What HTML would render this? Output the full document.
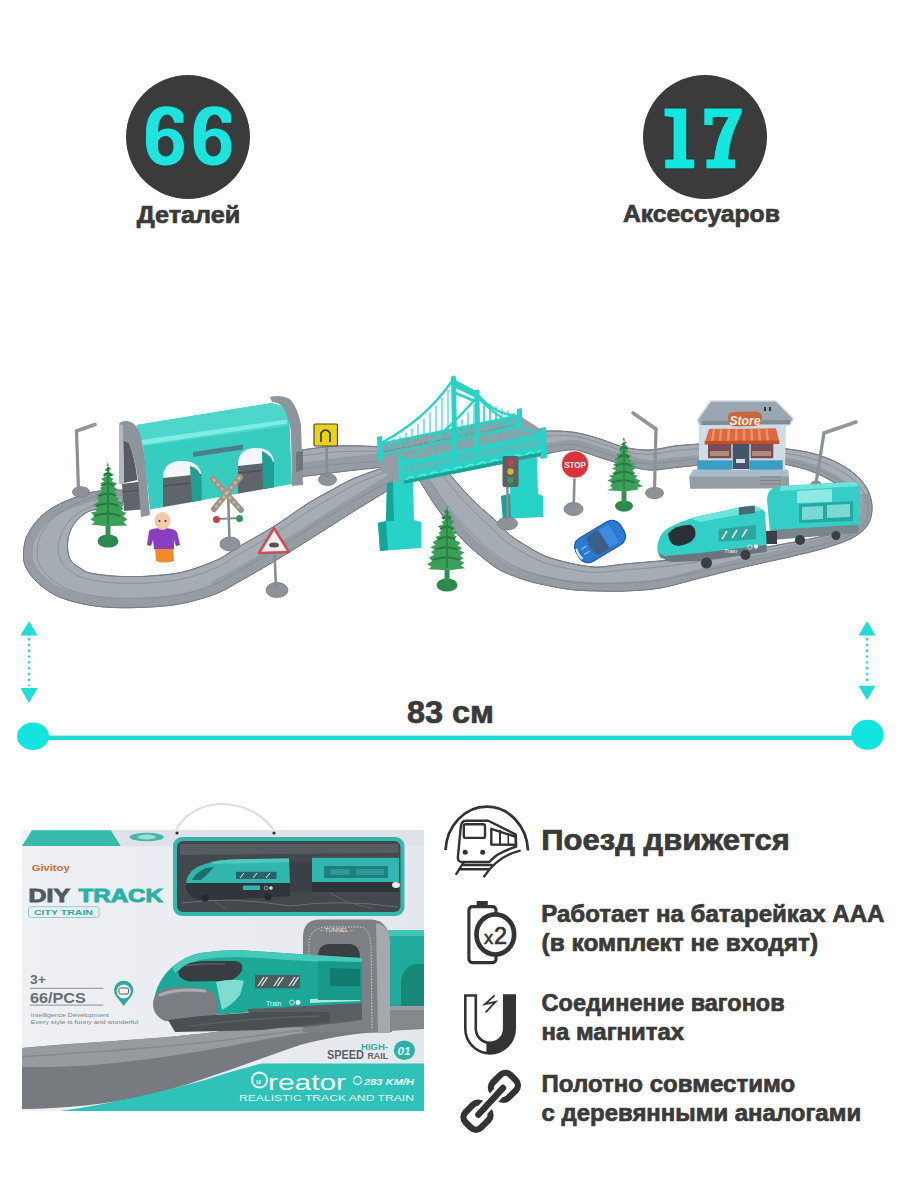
<!DOCTYPE html>
<html><head><meta charset="utf-8">
<style>
html,body{margin:0;padding:0;background:#fff;}
body{width:900px;height:1200px;overflow:hidden;position:relative;font-family:"Liberation Sans",sans-serif;}
svg{position:absolute;left:0;top:0;}
.t{font-family:"Liberation Sans",sans-serif;font-weight:bold;fill:#3a3a3a;stroke:#3a3a3a;stroke-width:0.7px;}
</style></head><body>
<svg width="900" height="1200" viewBox="0 0 900 1200">
<!-- top circles -->
<circle cx="188" cy="137" r="62" fill="#3c3b3b"/>
<circle cx="705" cy="137" r="62" fill="#3c3b3b"/>
<g fill="#1ee3de" fill-rule="evenodd" stroke="#0b3b3d" stroke-width="0.8">
<path d="M184,114.7 C181,108.5 175,105.8 166,105.8 C153,105.8 145.5,116 145.5,133 L145.5,141 C145.5,157 154,166 165.5,166 C177.5,166 184.5,158 184.5,147 C184.5,135 177,128 168,128 C163.5,128 160.5,129.5 158.6,131.5 C159,120 162,115 167,115 C171,115 173,118.5 174,123.3 L184,123.3 Z M165.8,136.5 C170.5,136.5 173,140.5 173,146.5 C173,152.5 170.5,156 165.8,156 C161,156 158.5,152.5 158.5,146.5 L158.5,141 C160,138 162.5,136.5 165.8,136.5 Z"/>
<path transform="translate(47.6,0)" d="M184,114.7 C181,108.5 175,105.8 166,105.8 C153,105.8 145.5,116 145.5,133 L145.5,141 C145.5,157 154,166 165.5,166 C177.5,166 184.5,158 184.5,147 C184.5,135 177,128 168,128 C163.5,128 160.5,129.5 158.6,131.5 C159,120 162,115 167,115 C171,115 173,118.5 174,123.3 L184,123.3 Z M165.8,136.5 C170.5,136.5 173,140.5 173,146.5 C173,152.5 170.5,156 165.8,156 C161,156 158.5,152.5 158.5,146.5 L158.5,141 C160,138 162.5,136.5 165.8,136.5 Z"/>
</g>
<g fill="#14e6e0" stroke="#0b3b3d" stroke-width="0.8">
<path d="M664.1,108.1 L686.6,108.1 L686.6,159.1 L694.7,159.1 L694.7,168.8 L664.7,168.8 L664.7,159.1 L673.1,159.1 L673.1,117.6 L664.1,116.6 Z"/>
<path d="M703.8,108.1 L742.2,108.1 L742.2,112.5 C740.5,117 736,126 733.8,132.5 C731.5,139 729.9,147 729.3,152 L728.6,159 L735.6,159 L735.6,168.8 L705.9,168.8 L705.9,159 L713.8,159 C714.5,150 717,140 720,133 C722.5,127 725.5,121.5 728.1,117.5 L713.1,117.5 L713.1,125.6 L703.8,125.6 Z"/>
</g>
<text class="t" x="136.7" y="223" font-size="23" textLength="103.5" lengthAdjust="spacingAndGlyphs">Деталей</text>
<text class="t" x="622.9" y="222.4" font-size="23" textLength="157" lengthAdjust="spacingAndGlyphs">Аксессуаров</text>

<!--PHOTO-->
<clipPath id="tc1"><path d="M125.0,490.0 C120.8,490.2 107.1,490.2 100.0,491.0 C92.9,491.8 89.6,492.7 82.5,495.0 C75.4,497.3 64.6,501.2 57.5,505.0 C50.4,508.8 45.0,512.5 40.0,517.5 C35.0,522.5 30.2,529.6 27.5,535.0 C24.8,540.4 24.2,545.0 23.8,550.0 C23.3,555.0 23.1,560.0 25.0,565.0 C26.9,570.0 30.0,575.0 35.0,580.0 C40.0,585.0 47.1,591.0 55.0,595.0 C62.9,599.0 72.9,601.7 82.5,603.8 C92.1,605.8 101.2,607.0 112.5,607.5 C123.8,608.0 138.2,607.7 150.0,607.0 C161.8,606.3 171.8,605.6 183.0,603.3 C194.2,601.0 207.5,597.0 217.0,593.3 C226.5,589.6 230.7,586.2 240.0,581.0 C249.3,575.8 261.8,568.7 273.0,562.0 C284.2,555.3 295.8,548.0 307.0,541.0 C318.2,534.0 329.2,526.8 340.0,520.0 C350.8,513.2 362.5,505.8 372.0,500.0 C381.5,494.2 392.8,487.5 397.0,485.0 L397.0,463.0 C390.0,465.5 366.2,473.3 355.0,478.0 C343.8,482.7 338.0,486.7 330.0,491.0 C322.0,495.3 316.5,498.0 307.0,504.0 C297.5,510.0 284.2,520.0 273.0,527.0 C261.8,534.0 249.3,540.5 240.0,546.0 C230.7,551.5 226.5,555.7 217.0,560.0 C207.5,564.3 194.2,569.3 183.0,572.0 C171.8,574.7 158.8,575.2 150.0,576.0 C141.2,576.8 136.2,576.5 130.0,576.5 C123.8,576.5 119.2,576.6 112.5,576.0 C105.8,575.4 95.4,574.3 90.0,573.0 C84.6,571.7 82.9,569.8 80.0,568.0 C77.1,566.2 74.4,564.7 72.5,562.5 C70.6,560.3 69.3,557.9 68.5,555.0 C67.7,552.1 67.4,548.3 67.5,545.0 C67.6,541.7 67.9,538.5 69.0,535.0 C70.1,531.5 71.5,527.5 74.0,524.0 C76.5,520.5 80.2,516.5 84.0,514.0 C87.8,511.5 90.7,510.3 97.0,509.0 C103.3,507.7 117.8,506.5 122.0,506.0 Z"/></clipPath>
<path d="M125.0,490.0 C120.8,490.2 107.1,490.2 100.0,491.0 C92.9,491.8 89.6,492.7 82.5,495.0 C75.4,497.3 64.6,501.2 57.5,505.0 C50.4,508.8 45.0,512.5 40.0,517.5 C35.0,522.5 30.2,529.6 27.5,535.0 C24.8,540.4 24.2,545.0 23.8,550.0 C23.3,555.0 23.1,560.0 25.0,565.0 C26.9,570.0 30.0,575.0 35.0,580.0 C40.0,585.0 47.1,591.0 55.0,595.0 C62.9,599.0 72.9,601.7 82.5,603.8 C92.1,605.8 101.2,607.0 112.5,607.5 C123.8,608.0 138.2,607.7 150.0,607.0 C161.8,606.3 171.8,605.6 183.0,603.3 C194.2,601.0 207.5,597.0 217.0,593.3 C226.5,589.6 230.7,586.2 240.0,581.0 C249.3,575.8 261.8,568.7 273.0,562.0 C284.2,555.3 295.8,548.0 307.0,541.0 C318.2,534.0 329.2,526.8 340.0,520.0 C350.8,513.2 362.5,505.8 372.0,500.0 C381.5,494.2 392.8,487.5 397.0,485.0 L397.0,463.0 C390.0,465.5 366.2,473.3 355.0,478.0 C343.8,482.7 338.0,486.7 330.0,491.0 C322.0,495.3 316.5,498.0 307.0,504.0 C297.5,510.0 284.2,520.0 273.0,527.0 C261.8,534.0 249.3,540.5 240.0,546.0 C230.7,551.5 226.5,555.7 217.0,560.0 C207.5,564.3 194.2,569.3 183.0,572.0 C171.8,574.7 158.8,575.2 150.0,576.0 C141.2,576.8 136.2,576.5 130.0,576.5 C123.8,576.5 119.2,576.6 112.5,576.0 C105.8,575.4 95.4,574.3 90.0,573.0 C84.6,571.7 82.9,569.8 80.0,568.0 C77.1,566.2 74.4,564.7 72.5,562.5 C70.6,560.3 69.3,557.9 68.5,555.0 C67.7,552.1 67.4,548.3 67.5,545.0 C67.6,541.7 67.9,538.5 69.0,535.0 C70.1,531.5 71.5,527.5 74.0,524.0 C76.5,520.5 80.2,516.5 84.0,514.0 C87.8,511.5 90.7,510.3 97.0,509.0 C103.3,507.7 117.8,506.5 122.0,506.0 Z" fill="#a5acb4" stroke="#767d86" stroke-width="1"/>
<path d="M125.0,490.0 C120.8,490.2 107.1,490.2 100.0,491.0 C92.9,491.8 89.6,492.7 82.5,495.0 C75.4,497.3 64.6,501.2 57.5,505.0 C50.4,508.8 45.0,512.5 40.0,517.5 C35.0,522.5 30.2,529.6 27.5,535.0 C24.8,540.4 24.2,545.0 23.8,550.0 C23.3,555.0 23.1,560.0 25.0,565.0 C26.9,570.0 30.0,575.0 35.0,580.0 C40.0,585.0 47.1,591.0 55.0,595.0 C62.9,599.0 72.9,601.7 82.5,603.8 C92.1,605.8 101.2,607.0 112.5,607.5 C123.8,608.0 138.2,607.7 150.0,607.0 C161.8,606.3 171.8,605.6 183.0,603.3 C194.2,601.0 207.5,597.0 217.0,593.3 C226.5,589.6 236.2,583.0 240.0,581.0" fill="none" stroke="#959ca4" stroke-width="18" clip-path="url(#tc1)" stroke-linejoin="round"/>
<path d="M217.0,593.3 C220.8,591.2 230.7,586.2 240.0,581.0 C249.3,575.8 261.8,568.7 273.0,562.0 C284.2,555.3 295.8,548.0 307.0,541.0 C318.2,534.0 329.2,526.8 340.0,520.0 C350.8,513.2 362.5,505.8 372.0,500.0 C381.5,494.2 392.8,487.5 397.0,485.0" fill="none" stroke="#959ca4" stroke-width="26" clip-path="url(#tc1)" stroke-linejoin="round"/>
<path d="M124.1,494.8 C119.9,495.1 106.0,495.4 99.1,496.4 C92.2,497.4 89.1,498.3 83.0,500.7 C76.8,503.1 68.2,507.0 62.5,510.7 C56.7,514.4 52.5,518.2 48.7,522.8 C44.9,527.3 41.4,533.2 39.5,538.0 C37.6,542.8 37.2,547.1 37.2,551.5 C37.1,555.9 37.4,560.1 39.2,564.2 C41.1,568.4 44.1,572.4 48.5,576.4 C52.9,580.4 58.3,585.2 65.5,588.4 C72.7,591.6 82.8,593.8 91.5,595.4 C100.2,597.1 108.0,597.8 117.8,598.2 C127.5,598.6 139.1,598.4 150.0,597.7 C160.9,597.0 171.8,596.3 183.0,593.9 C194.2,591.5 207.5,587.2 217.0,583.3 C226.5,579.4 230.7,575.8 240.0,570.5 C249.3,565.2 261.8,558.3 273.0,551.5 C284.2,544.7 296.3,536.6 307.0,529.9 C317.7,523.2 327.0,517.4 337.0,511.3 C347.0,505.2 356.9,498.9 366.9,493.4 C376.9,487.9 392.0,480.9 397.0,478.4" fill="none" stroke="#838a93" stroke-width="1" opacity="0.8"/>
<path d="M122.7,502.5 C118.5,502.9 104.2,503.8 97.7,505.0 C91.2,506.3 88.2,507.4 83.7,509.8 C79.1,512.3 73.9,516.3 70.4,519.8 C66.9,523.4 64.6,527.3 62.6,531.1 C60.7,535.0 59.4,539.0 58.7,542.8 C58.0,546.6 58.1,550.5 58.7,553.9 C59.2,557.3 60.1,560.3 62.1,563.0 C64.0,565.8 66.7,568.2 70.1,570.6 C73.5,573.1 76.3,575.9 82.3,577.8 C88.3,579.8 98.6,581.2 105.9,582.1 C113.2,583.0 118.8,583.2 126.2,583.3 C133.5,583.4 140.5,583.6 150.0,582.8 C159.5,582.1 171.8,581.5 183.0,578.9 C194.2,576.3 207.5,571.5 217.0,567.3 C226.5,563.1 230.7,559.1 240.0,553.7 C249.3,548.3 261.8,541.6 273.0,534.7 C284.2,527.8 297.1,518.4 307.0,512.1 C316.9,505.9 323.6,502.3 332.2,497.4 C340.8,492.5 347.9,487.8 358.7,482.8 C369.5,477.9 390.6,470.3 397.0,467.8" fill="none" stroke="#838a93" stroke-width="1" opacity="0.8"/>
<path d="M125.0,490.0 C120.8,490.2 107.1,490.2 100.0,491.0 C92.9,491.8 89.6,492.7 82.5,495.0 C75.4,497.3 64.6,501.2 57.5,505.0 C50.4,508.8 45.0,512.5 40.0,517.5 C35.0,522.5 30.2,529.6 27.5,535.0 C24.8,540.4 24.2,545.0 23.8,550.0 C23.3,555.0 23.1,560.0 25.0,565.0 C26.9,570.0 30.0,575.0 35.0,580.0 C40.0,585.0 47.1,591.0 55.0,595.0 C62.9,599.0 72.9,601.7 82.5,603.8 C92.1,605.8 101.2,607.0 112.5,607.5 C123.8,608.0 138.2,607.7 150.0,607.0 C161.8,606.3 171.8,605.6 183.0,603.3 C194.2,601.0 207.5,597.0 217.0,593.3 C226.5,589.6 230.7,586.2 240.0,581.0 C249.3,575.8 261.8,568.7 273.0,562.0 C284.2,555.3 295.8,548.0 307.0,541.0 C318.2,534.0 329.2,526.8 340.0,520.0 C350.8,513.2 362.5,505.8 372.0,500.0 C381.5,494.2 392.8,487.5 397.0,485.0 L397.0,463.0 C390.0,465.5 366.2,473.3 355.0,478.0 C343.8,482.7 338.0,486.7 330.0,491.0 C322.0,495.3 316.5,498.0 307.0,504.0 C297.5,510.0 284.2,520.0 273.0,527.0 C261.8,534.0 249.3,540.5 240.0,546.0 C230.7,551.5 226.5,555.7 217.0,560.0 C207.5,564.3 194.2,569.3 183.0,572.0 C171.8,574.7 158.8,575.2 150.0,576.0 C141.2,576.8 136.2,576.5 130.0,576.5 C123.8,576.5 119.2,576.6 112.5,576.0 C105.8,575.4 95.4,574.3 90.0,573.0 C84.6,571.7 82.9,569.8 80.0,568.0 C77.1,566.2 74.4,564.7 72.5,562.5 C70.6,560.3 69.3,557.9 68.5,555.0 C67.7,552.1 67.4,548.3 67.5,545.0 C67.6,541.7 67.9,538.5 69.0,535.0 C70.1,531.5 71.5,527.5 74.0,524.0 C76.5,520.5 80.2,516.5 84.0,514.0 C87.8,511.5 90.7,510.3 97.0,509.0 C103.3,507.7 117.8,506.5 122.0,506.0 Z" fill="none" stroke="#767d86" stroke-width="1"/>
<clipPath id="tc2"><path d="M296.0,477.0 C299.2,476.7 309.3,475.7 315.0,475.0 C320.7,474.3 323.3,473.8 330.0,473.0 C336.7,472.2 346.0,471.0 355.0,470.0 C364.0,469.0 379.2,467.5 384.0,467.0 L384.0,447.0 C380.0,446.8 367.7,446.2 360.0,446.0 C352.3,445.8 344.7,445.8 338.0,446.0 C331.3,446.2 327.0,446.7 320.0,447.5 C313.0,448.3 300.0,450.4 296.0,451.0 Z"/></clipPath>
<path d="M296.0,477.0 C299.2,476.7 309.3,475.7 315.0,475.0 C320.7,474.3 323.3,473.8 330.0,473.0 C336.7,472.2 346.0,471.0 355.0,470.0 C364.0,469.0 379.2,467.5 384.0,467.0 L384.0,447.0 C380.0,446.8 367.7,446.2 360.0,446.0 C352.3,445.8 344.7,445.8 338.0,446.0 C331.3,446.2 327.0,446.7 320.0,447.5 C313.0,448.3 300.0,450.4 296.0,451.0 Z" fill="#a5acb4" stroke="#767d86" stroke-width="1"/>
<path d="M296.0,477.0 C299.2,476.7 309.3,475.7 315.0,475.0 C320.7,474.3 323.3,473.8 330.0,473.0 C336.7,472.2 346.0,471.0 355.0,470.0 C364.0,469.0 379.2,467.5 384.0,467.0" fill="none" stroke="#959ca4" stroke-width="28" clip-path="url(#tc2)" stroke-linejoin="round"/>
<path d="M296.0,469.2 C299.4,468.8 310.4,467.5 316.5,466.8 C322.6,466.0 325.7,465.6 332.4,464.9 C339.1,464.2 347.9,463.4 356.5,462.8 C365.1,462.2 379.4,461.3 384.0,461.0" fill="none" stroke="#838a93" stroke-width="1" opacity="0.8"/>
<path d="M296.0,456.7 C299.8,456.2 312.2,454.3 318.9,453.6 C325.6,452.8 329.6,452.3 336.2,451.9 C342.9,451.6 350.9,451.4 358.9,451.3 C366.9,451.2 379.8,451.4 384.0,451.4" fill="none" stroke="#838a93" stroke-width="1" opacity="0.8"/>
<path d="M296.0,477.0 C299.2,476.7 309.3,475.7 315.0,475.0 C320.7,474.3 323.3,473.8 330.0,473.0 C336.7,472.2 346.0,471.0 355.0,470.0 C364.0,469.0 379.2,467.5 384.0,467.0 L384.0,447.0 C380.0,446.8 367.7,446.2 360.0,446.0 C352.3,445.8 344.7,445.8 338.0,446.0 C331.3,446.2 327.0,446.7 320.0,447.5 C313.0,448.3 300.0,450.4 296.0,451.0 Z" fill="none" stroke="#767d86" stroke-width="1"/>
<clipPath id="tc3"><path d="M540.0,457.0 C541.7,456.3 544.2,454.2 550.0,453.0 C555.8,451.8 566.7,449.2 575.0,450.0 C583.3,450.8 591.7,455.0 600.0,457.5 C608.3,460.0 616.7,462.9 625.0,465.0 C633.3,467.1 641.7,469.6 650.0,470.0 C658.3,470.4 666.7,468.3 675.0,467.5 C683.3,466.7 695.8,465.4 700.0,465.0 L700.0,444.0 C695.8,444.3 683.3,445.0 675.0,446.0 C666.7,447.0 658.3,449.8 650.0,450.0 C641.7,450.2 633.3,449.3 625.0,447.5 C616.7,445.7 608.3,441.5 600.0,439.0 C591.7,436.5 583.3,433.8 575.0,432.5 C566.7,431.2 555.8,430.9 550.0,431.0 C544.2,431.1 541.7,432.7 540.0,433.0 Z"/></clipPath>
<path d="M540.0,457.0 C541.7,456.3 544.2,454.2 550.0,453.0 C555.8,451.8 566.7,449.2 575.0,450.0 C583.3,450.8 591.7,455.0 600.0,457.5 C608.3,460.0 616.7,462.9 625.0,465.0 C633.3,467.1 641.7,469.6 650.0,470.0 C658.3,470.4 666.7,468.3 675.0,467.5 C683.3,466.7 695.8,465.4 700.0,465.0 L700.0,444.0 C695.8,444.3 683.3,445.0 675.0,446.0 C666.7,447.0 658.3,449.8 650.0,450.0 C641.7,450.2 633.3,449.3 625.0,447.5 C616.7,445.7 608.3,441.5 600.0,439.0 C591.7,436.5 583.3,433.8 575.0,432.5 C566.7,431.2 555.8,430.9 550.0,431.0 C544.2,431.1 541.7,432.7 540.0,433.0 Z" fill="#a5acb4" stroke="#767d86" stroke-width="1"/>
<path d="M540.0,457.0 C541.7,456.3 544.2,454.2 550.0,453.0 C555.8,451.8 566.7,449.2 575.0,450.0 C583.3,450.8 591.7,455.0 600.0,457.5 C608.3,460.0 616.7,462.9 625.0,465.0 C633.3,467.1 641.7,469.6 650.0,470.0 C658.3,470.4 666.7,468.3 675.0,467.5 C683.3,466.7 695.8,465.4 700.0,465.0" fill="none" stroke="#959ca4" stroke-width="20" clip-path="url(#tc3)" stroke-linejoin="round"/>
<path d="M540.0,449.8 C541.7,449.2 544.2,447.2 550.0,446.4 C555.8,445.6 566.7,443.8 575.0,444.8 C583.3,445.7 591.7,449.4 600.0,451.9 C608.3,454.4 616.7,457.7 625.0,459.8 C633.3,461.8 641.7,463.8 650.0,464.0 C658.3,464.2 666.7,461.9 675.0,461.1 C683.3,460.2 695.8,459.1 700.0,458.7" fill="none" stroke="#838a93" stroke-width="1" opacity="0.8"/>
<path d="M540.0,438.3 C541.7,437.9 544.2,436.2 550.0,435.8 C555.8,435.5 566.7,435.1 575.0,436.4 C583.3,437.6 591.7,440.6 600.0,443.1 C608.3,445.6 616.7,449.5 625.0,451.4 C633.3,453.2 641.7,454.5 650.0,454.4 C658.3,454.3 666.7,451.7 675.0,450.7 C683.3,449.8 695.8,449.0 700.0,448.6" fill="none" stroke="#838a93" stroke-width="1" opacity="0.8"/>
<path d="M540.0,457.0 C541.7,456.3 544.2,454.2 550.0,453.0 C555.8,451.8 566.7,449.2 575.0,450.0 C583.3,450.8 591.7,455.0 600.0,457.5 C608.3,460.0 616.7,462.9 625.0,465.0 C633.3,467.1 641.7,469.6 650.0,470.0 C658.3,470.4 666.7,468.3 675.0,467.5 C683.3,466.7 695.8,465.4 700.0,465.0 L700.0,444.0 C695.8,444.3 683.3,445.0 675.0,446.0 C666.7,447.0 658.3,449.8 650.0,450.0 C641.7,450.2 633.3,449.3 625.0,447.5 C616.7,445.7 608.3,441.5 600.0,439.0 C591.7,436.5 583.3,433.8 575.0,432.5 C566.7,431.2 555.8,430.9 550.0,431.0 C544.2,431.1 541.7,432.7 540.0,433.0 Z" fill="none" stroke="#767d86" stroke-width="1"/>
<clipPath id="tc4"><path d="M780.0,448.0 C785.2,448.8 801.3,450.5 811.0,453.0 C820.7,455.5 830.2,459.0 838.0,463.0 C845.8,467.0 852.8,472.0 858.0,477.0 C863.2,482.0 866.7,487.5 869.0,493.0 C871.3,498.5 872.3,504.5 872.0,510.0 C871.7,515.5 870.3,521.3 867.0,526.0 C863.7,530.7 859.0,534.3 852.0,538.0 C845.0,541.7 835.5,544.8 825.0,548.0 C814.5,551.2 802.5,553.8 789.0,557.0 C775.5,560.2 758.8,563.5 744.0,567.0 C729.2,570.5 714.0,574.5 700.0,578.0 C686.0,581.5 672.5,585.8 660.0,588.0 C647.5,590.2 635.0,590.5 625.0,591.0 C615.0,591.5 608.3,591.2 600.0,591.0 C591.7,590.8 583.3,590.8 575.0,590.0 C566.7,589.2 558.3,587.7 550.0,586.0 C541.7,584.3 533.3,582.7 525.0,580.0 C516.7,577.3 507.2,573.8 500.0,570.0 C492.8,566.2 487.8,561.7 482.0,557.0 C476.2,552.3 470.3,547.3 465.0,542.0 C459.7,536.7 455.0,531.2 450.0,525.0 C445.0,518.8 440.3,512.8 435.0,505.0 C429.7,497.2 420.8,482.5 418.0,478.0 L446.0,470.0 C449.2,473.7 459.3,485.8 465.0,492.0 C470.7,498.2 475.0,502.3 480.0,507.0 C485.0,511.7 490.0,515.3 495.0,520.0 C500.0,524.7 505.0,530.8 510.0,535.0 C515.0,539.2 519.2,541.5 525.0,545.0 C530.8,548.5 538.3,553.2 545.0,556.0 C551.7,558.8 558.3,560.3 565.0,562.0 C571.7,563.7 579.2,565.2 585.0,566.0 C590.8,566.8 593.3,567.3 600.0,567.0 C606.7,566.7 615.0,565.0 625.0,564.0 C635.0,563.0 647.5,562.2 660.0,561.0 C672.5,559.8 686.0,558.7 700.0,557.0 C714.0,555.3 729.2,553.3 744.0,551.0 C758.8,548.7 777.2,545.2 789.0,543.0 C800.8,540.8 806.8,539.8 815.0,538.0 C823.2,536.2 831.7,534.3 838.0,532.0 C844.3,529.7 849.5,527.0 853.0,524.0 C856.5,521.0 858.3,517.3 859.0,514.0 C859.7,510.7 858.8,507.7 857.0,504.0 C855.2,500.3 852.5,496.0 848.0,492.0 C843.5,488.0 836.7,483.7 830.0,480.0 C823.3,476.3 816.3,472.8 808.0,470.0 C799.7,467.2 784.7,464.2 780.0,463.0 Z"/></clipPath>
<path d="M780.0,448.0 C785.2,448.8 801.3,450.5 811.0,453.0 C820.7,455.5 830.2,459.0 838.0,463.0 C845.8,467.0 852.8,472.0 858.0,477.0 C863.2,482.0 866.7,487.5 869.0,493.0 C871.3,498.5 872.3,504.5 872.0,510.0 C871.7,515.5 870.3,521.3 867.0,526.0 C863.7,530.7 859.0,534.3 852.0,538.0 C845.0,541.7 835.5,544.8 825.0,548.0 C814.5,551.2 802.5,553.8 789.0,557.0 C775.5,560.2 758.8,563.5 744.0,567.0 C729.2,570.5 714.0,574.5 700.0,578.0 C686.0,581.5 672.5,585.8 660.0,588.0 C647.5,590.2 635.0,590.5 625.0,591.0 C615.0,591.5 608.3,591.2 600.0,591.0 C591.7,590.8 583.3,590.8 575.0,590.0 C566.7,589.2 558.3,587.7 550.0,586.0 C541.7,584.3 533.3,582.7 525.0,580.0 C516.7,577.3 507.2,573.8 500.0,570.0 C492.8,566.2 487.8,561.7 482.0,557.0 C476.2,552.3 470.3,547.3 465.0,542.0 C459.7,536.7 455.0,531.2 450.0,525.0 C445.0,518.8 440.3,512.8 435.0,505.0 C429.7,497.2 420.8,482.5 418.0,478.0 L446.0,470.0 C449.2,473.7 459.3,485.8 465.0,492.0 C470.7,498.2 475.0,502.3 480.0,507.0 C485.0,511.7 490.0,515.3 495.0,520.0 C500.0,524.7 505.0,530.8 510.0,535.0 C515.0,539.2 519.2,541.5 525.0,545.0 C530.8,548.5 538.3,553.2 545.0,556.0 C551.7,558.8 558.3,560.3 565.0,562.0 C571.7,563.7 579.2,565.2 585.0,566.0 C590.8,566.8 593.3,567.3 600.0,567.0 C606.7,566.7 615.0,565.0 625.0,564.0 C635.0,563.0 647.5,562.2 660.0,561.0 C672.5,559.8 686.0,558.7 700.0,557.0 C714.0,555.3 729.2,553.3 744.0,551.0 C758.8,548.7 777.2,545.2 789.0,543.0 C800.8,540.8 806.8,539.8 815.0,538.0 C823.2,536.2 831.7,534.3 838.0,532.0 C844.3,529.7 849.5,527.0 853.0,524.0 C856.5,521.0 858.3,517.3 859.0,514.0 C859.7,510.7 858.8,507.7 857.0,504.0 C855.2,500.3 852.5,496.0 848.0,492.0 C843.5,488.0 836.7,483.7 830.0,480.0 C823.3,476.3 816.3,472.8 808.0,470.0 C799.7,467.2 784.7,464.2 780.0,463.0 Z" fill="#a5acb4" stroke="#767d86" stroke-width="1"/>
<path d="M780.0,463.0 C784.7,464.2 799.7,467.2 808.0,470.0 C816.3,472.8 823.3,476.3 830.0,480.0 C836.7,483.7 845.0,490.0 848.0,492.0" fill="none" stroke="#959ca4" stroke-width="14" clip-path="url(#tc4)" stroke-linejoin="round"/>
<path d="M869.0,493.0 C869.5,495.8 872.3,504.5 872.0,510.0 C871.7,515.5 870.3,521.3 867.0,526.0 C863.7,530.7 859.0,534.3 852.0,538.0 C845.0,541.7 835.5,544.8 825.0,548.0 C814.5,551.2 802.5,553.8 789.0,557.0 C775.5,560.2 758.8,563.5 744.0,567.0 C729.2,570.5 714.0,574.5 700.0,578.0 C686.0,581.5 672.5,585.8 660.0,588.0 C647.5,590.2 635.0,590.5 625.0,591.0 C615.0,591.5 608.3,591.2 600.0,591.0 C591.7,590.8 583.3,590.8 575.0,590.0 C566.7,589.2 558.3,587.7 550.0,586.0 C541.7,584.3 533.3,582.7 525.0,580.0 C516.7,577.3 507.2,573.8 500.0,570.0 C492.8,566.2 487.8,561.7 482.0,557.0 C476.2,552.3 470.3,547.3 465.0,542.0 C459.7,536.7 455.0,531.2 450.0,525.0 C445.0,518.8 440.3,512.8 435.0,505.0 C429.7,497.2 420.8,482.5 418.0,478.0" fill="none" stroke="#959ca4" stroke-width="18" clip-path="url(#tc4)" stroke-linejoin="round"/>
<path d="M780.0,452.5 C785.0,453.4 800.8,455.5 810.1,458.1 C819.4,460.7 828.1,464.2 835.6,468.1 C843.1,472.0 850.0,476.8 855.0,481.5 C860.0,486.2 863.2,491.4 865.4,496.3 C867.6,501.2 868.5,506.4 868.1,511.2 C867.7,516.0 866.2,521.2 862.8,525.4 C859.4,529.6 854.6,532.9 847.8,536.2 C841.0,539.5 831.8,542.2 822.0,545.0 C812.2,547.8 802.0,549.9 789.0,552.8 C776.0,555.7 758.8,559.1 744.0,562.2 C729.2,565.4 714.0,568.8 700.0,571.7 C686.0,574.7 672.5,578.0 660.0,579.9 C647.5,581.8 635.0,582.2 625.0,582.9 C615.0,583.5 607.8,583.8 600.0,583.8 C592.2,583.8 585.6,583.6 578.0,582.8 C570.4,582.0 562.3,580.5 554.5,578.8 C546.7,577.1 538.8,575.5 531.0,572.8 C523.2,570.1 514.3,566.2 507.5,562.5 C500.7,558.8 496.0,554.9 490.4,550.4 C484.8,545.9 479.2,540.5 474.0,535.4 C468.8,530.3 464.0,525.3 459.0,519.6 C454.0,513.9 449.4,508.4 444.0,501.1 C438.6,493.8 429.3,479.9 426.4,475.6" fill="none" stroke="#838a93" stroke-width="1" opacity="0.8"/>
<path d="M780.0,459.7 C784.8,460.8 800.0,463.5 808.7,466.3 C817.3,469.0 824.8,472.5 831.8,476.3 C838.7,480.0 845.6,484.5 850.2,488.7 C854.8,492.9 857.7,497.5 859.6,501.6 C861.6,505.6 862.5,509.3 861.9,513.1 C861.3,516.9 859.5,521.1 856.1,524.4 C852.6,527.8 847.6,530.7 841.1,533.3 C834.6,535.9 825.9,538.1 817.2,540.2 C808.5,542.3 801.2,543.7 789.0,546.1 C776.8,548.5 758.8,551.9 744.0,554.5 C729.2,557.1 714.0,559.5 700.0,561.6 C686.0,563.7 672.5,565.6 660.0,566.9 C647.5,568.3 635.0,569.1 625.0,569.9 C615.0,570.8 607.0,572.1 600.0,572.3 C593.0,572.5 589.2,572.1 582.8,571.3 C576.4,570.4 568.7,568.9 561.7,567.3 C554.7,565.6 547.6,564.1 540.6,561.3 C533.6,558.5 525.6,554.1 519.5,550.5 C513.4,546.9 509.0,544.1 503.8,539.8 C498.7,535.6 493.5,529.7 488.4,524.8 C483.3,520.0 478.4,516.0 473.4,511.0 C468.4,506.0 464.0,501.4 458.4,494.9 C452.8,488.3 442.9,475.6 439.8,471.8" fill="none" stroke="#838a93" stroke-width="1" opacity="0.8"/>
<path d="M780.0,448.0 C785.2,448.8 801.3,450.5 811.0,453.0 C820.7,455.5 830.2,459.0 838.0,463.0 C845.8,467.0 852.8,472.0 858.0,477.0 C863.2,482.0 866.7,487.5 869.0,493.0 C871.3,498.5 872.3,504.5 872.0,510.0 C871.7,515.5 870.3,521.3 867.0,526.0 C863.7,530.7 859.0,534.3 852.0,538.0 C845.0,541.7 835.5,544.8 825.0,548.0 C814.5,551.2 802.5,553.8 789.0,557.0 C775.5,560.2 758.8,563.5 744.0,567.0 C729.2,570.5 714.0,574.5 700.0,578.0 C686.0,581.5 672.5,585.8 660.0,588.0 C647.5,590.2 635.0,590.5 625.0,591.0 C615.0,591.5 608.3,591.2 600.0,591.0 C591.7,590.8 583.3,590.8 575.0,590.0 C566.7,589.2 558.3,587.7 550.0,586.0 C541.7,584.3 533.3,582.7 525.0,580.0 C516.7,577.3 507.2,573.8 500.0,570.0 C492.8,566.2 487.8,561.7 482.0,557.0 C476.2,552.3 470.3,547.3 465.0,542.0 C459.7,536.7 455.0,531.2 450.0,525.0 C445.0,518.8 440.3,512.8 435.0,505.0 C429.7,497.2 420.8,482.5 418.0,478.0 L446.0,470.0 C449.2,473.7 459.3,485.8 465.0,492.0 C470.7,498.2 475.0,502.3 480.0,507.0 C485.0,511.7 490.0,515.3 495.0,520.0 C500.0,524.7 505.0,530.8 510.0,535.0 C515.0,539.2 519.2,541.5 525.0,545.0 C530.8,548.5 538.3,553.2 545.0,556.0 C551.7,558.8 558.3,560.3 565.0,562.0 C571.7,563.7 579.2,565.2 585.0,566.0 C590.8,566.8 593.3,567.3 600.0,567.0 C606.7,566.7 615.0,565.0 625.0,564.0 C635.0,563.0 647.5,562.2 660.0,561.0 C672.5,559.8 686.0,558.7 700.0,557.0 C714.0,555.3 729.2,553.3 744.0,551.0 C758.8,548.7 777.2,545.2 789.0,543.0 C800.8,540.8 806.8,539.8 815.0,538.0 C823.2,536.2 831.7,534.3 838.0,532.0 C844.3,529.7 849.5,527.0 853.0,524.0 C856.5,521.0 858.3,517.3 859.0,514.0 C859.7,510.7 858.8,507.7 857.0,504.0 C855.2,500.3 852.5,496.0 848.0,492.0 C843.5,488.0 836.7,483.7 830.0,480.0 C823.3,476.3 816.3,472.8 808.0,470.0 C799.7,467.2 784.7,464.2 780.0,463.0 Z" fill="none" stroke="#767d86" stroke-width="1"/>
<ellipse cx="81" cy="492" rx="8.5" ry="5.3125" fill="#8d9399" stroke="#747a80" stroke-width="0.8"/>
<path d="M76.5,431 L78.5,490" stroke="#8a9096" stroke-width="3.2" stroke-linecap="round"/>
<path d="M76.5,431 L95,424.5" stroke="#8f959b" stroke-width="3.6" stroke-linecap="round"/>
<ellipse cx="654.5" cy="493" rx="9" ry="5.625" fill="#8d9399" stroke="#747a80" stroke-width="0.8"/>
<path d="M656,429 L654.5,490" stroke="#8a9096" stroke-width="3.2" stroke-linecap="round"/>
<path d="M656,429 L633,413" stroke="#8f959b" stroke-width="3.6" stroke-linecap="round"/>
<ellipse cx="816" cy="484" rx="5" ry="3.125" fill="#8d9399" stroke="#747a80" stroke-width="0.8"/>
<path d="M824,433 L816,483" stroke="#8a9096" stroke-width="3.2" stroke-linecap="round"/>
<path d="M824,433 L856,422" stroke="#8f959b" stroke-width="3.6" stroke-linecap="round"/>
<g>
<path d="M122,484 L145,481 L147,509 L124,511 Z" fill="#5f656b"/>
<path d="M122,492 L146,489" stroke="#4a5056" stroke-width="1.2"/>
<path d="M136.5,425 L272,403 L289,409 L292,484 L150,509.4 L143,446 Z" fill="#36ccbf"/>
<path d="M136.5,425 L272,403 L286,407 L288,426 L145,446 Z" fill="#4dd6ca"/>
<path d="M141,440 L287,419.5 L287.5,423.5 L142,445 Z" fill="#7eeee5"/>
<path d="M163,507.1 L163,478 Q163,461 182,461 Q201.5,461 201.5,478 L201.5,500.2 Z" fill="#f4f7f7"/>
<path d="M163,507.1 L163,478 L201.5,474 L201.5,500.2 Z" fill="#5f656b"/>
<path d="M163,486 L201.5,482" stroke="#4a5056" stroke-width="1.5"/>
<path d="M190,466 Q199,468 201.5,478 L201.5,500.2 L192,502 Z" fill="#1f9e92"/>
<path d="M238,493.6 L238,465 Q238,448 256,448 Q274,448 274,465 L274,487.2 Z" fill="#f4f7f7"/>
<path d="M238,493.6 L238,466 L274,462 L274,487.2 Z" fill="#5f656b"/>
<path d="M238,473 L274,469" stroke="#4a5056" stroke-width="1.5"/>
<path d="M262,451 Q272,455 274,465 L274,487.2 L263,489 Z" fill="#1f9e92"/>
<path d="M193,452 L243,444.5 L243,449.5 L193,457 Z" fill="#4a7f8a"/>
<path d="M119,424 Q121,420.5 127,421 Q135,422 139,431 Q143,444 145,460 L150,515 L141,517 L138,480 Q135,458 129,443 L124,440 L123,484 L119,484 Z" fill="#8e949b"/>
<path d="M123.5,440 L129,443 Q135,458 137.5,480 L124,483 Z" fill="#565c62"/>
<path d="M119,424 L123,425 L124,484 L119,484 Z" fill="#b4b9bf"/>
<path d="M270,397 Q281,394 290,399 Q298,408 301,425 L303,485 L292,486 L291,432 Q289,415 282,406 Q277,402 272,402 Z" fill="#8e949b"/>
<path d="M296,452 L303,451 L303,470 L296,472 Z" fill="#6f757b"/>
</g>
<ellipse cx="327.5" cy="479.5" rx="9" ry="6" fill="#8d9399" stroke="#747a80" stroke-width="0.8"/>
<path d="M326.5,446 L327,478" stroke="#878d93" stroke-width="2.6"/>
<rect x="314" y="424" width="23.5" height="22" rx="1.5" fill="#e8d21a" stroke="#4d4a2a" stroke-width="1.2"/>
<path d="M321,442 L321,433 Q325.5,427 330,433 L330,442" fill="none" stroke="#333" stroke-width="1.6"/>
<g>
<!-- left pier -->
<path d="M387,483 L413,478 L414,520 L421,522 L421,548 L380,551 L378,523 L386,521 Z" fill="#27d3c7"/>
<path d="M387,483 L393,482 L394,521 L386,521 Z" fill="#16a497"/>
<path d="M378,523 L386,521 L388,550 L380,551 Z" fill="#16a497"/>
<!-- right pier -->
<path d="M511,458 L537,453 L538,494 L543,496 L543,517 L503,519 L501,496 L510,494 Z" fill="#27d3c7"/>
<path d="M501,496 L510,494 L511,518 L503,519 Z" fill="#16a497"/>
<!-- deck -->
<path d="M379,444 L520,416 L545,432 L545,456 L400,484 L380,470 Z" fill="#959ca4"/>
<path d="M382,452 L520,424" stroke="#7d848c" stroke-width="1"/>
</g>
<g fill="none" stroke="#27d3c7" stroke-linecap="round">
<path d="M380,444 L520,415.5" stroke-width="2.6"/>
<path d="M380,455 L520,427" stroke-width="1.8"/>
<path d="M383.0,443.4 L383.0,454.4" stroke-width="1.1"/>
<path d="M388.8,442.2 L388.8,453.2" stroke-width="1.1"/>
<path d="M394.6,441.0 L394.6,452.0" stroke-width="1.1"/>
<path d="M400.4,439.8 L400.4,450.8" stroke-width="1.1"/>
<path d="M406.2,438.7 L406.2,449.7" stroke-width="1.1"/>
<path d="M412.0,437.5 L412.0,448.5" stroke-width="1.1"/>
<path d="M417.8,436.3 L417.8,447.3" stroke-width="1.1"/>
<path d="M423.6,435.1 L423.6,446.1" stroke-width="1.1"/>
<path d="M429.4,433.9 L429.4,444.9" stroke-width="1.1"/>
<path d="M435.2,432.8 L435.2,443.8" stroke-width="1.1"/>
<path d="M441.0,431.6 L441.0,442.6" stroke-width="1.1"/>
<path d="M446.8,430.4 L446.8,441.4" stroke-width="1.1"/>
<path d="M452.6,429.2 L452.6,440.2" stroke-width="1.1"/>
<path d="M458.4,428.0 L458.4,439.0" stroke-width="1.1"/>
<path d="M464.2,426.9 L464.2,437.9" stroke-width="1.1"/>
<path d="M470.0,425.7 L470.0,436.7" stroke-width="1.1"/>
<path d="M475.8,424.5 L475.8,435.5" stroke-width="1.1"/>
<path d="M481.6,423.3 L481.6,434.3" stroke-width="1.1"/>
<path d="M487.4,422.1 L487.4,433.1" stroke-width="1.1"/>
<path d="M493.2,421.0 L493.2,432.0" stroke-width="1.1"/>
<path d="M499.0,419.8 L499.0,430.8" stroke-width="1.1"/>
<path d="M504.8,418.6 L504.8,429.6" stroke-width="1.1"/>
<path d="M510.6,417.4 L510.6,428.4" stroke-width="1.1"/>
<path d="M516.4,416.2 L516.4,427.2" stroke-width="1.1"/>
<path d="M453.5,378 L455,466" stroke-width="5"/>
<path d="M477,392 L478,465" stroke-width="5"/>
<path d="M452,379 L478,393 L478,398 L453,386 Z" fill="#27d3c7" stroke-width="1.5"/>
<path d="M453,392 L477,402" stroke-width="2.5"/>
<path d="M381,443 Q425,420 452,381" stroke-width="2.2"/>
<path d="M402,463 Q440,440 478,396" stroke-width="2.2"/>
<path d="M479,396 Q495,415 519,416" stroke-width="2.2"/>
<path d="M478,398 Q510,430 544,434" stroke-width="2.2"/>
<path d="M388.0,441.5 L388.0,442.4" stroke-width="1.1"/>
<path d="M394.0,439.4 L394.0,441.1" stroke-width="1.1"/>
<path d="M400.0,436.7 L400.0,439.9" stroke-width="1.1"/>
<path d="M406.0,433.3 L406.0,438.7" stroke-width="1.1"/>
<path d="M412.0,429.2 L412.0,437.5" stroke-width="1.1"/>
<path d="M418.0,424.4 L418.0,436.3" stroke-width="1.1"/>
<path d="M424.0,418.9 L424.0,435.0" stroke-width="1.1"/>
<path d="M430.0,412.8 L430.0,433.8" stroke-width="1.1"/>
<path d="M436.0,405.9 L436.0,432.6" stroke-width="1.1"/>
<path d="M442.0,398.4 L442.0,431.4" stroke-width="1.1"/>
<path d="M448.0,390.2 L448.0,430.2" stroke-width="1.1"/>
<path d="M484.0,400.4 L484.0,422.8" stroke-width="1.1"/>
<path d="M490.0,403.7 L490.0,421.6" stroke-width="1.1"/>
<path d="M496.0,406.4 L496.0,420.4" stroke-width="1.1"/>
<path d="M502.0,408.9 L502.0,419.2" stroke-width="1.1"/>
<path d="M508.0,411.2 L508.0,417.9" stroke-width="1.1"/>
<path d="M514.0,413.3 L514.0,416.7" stroke-width="1.1"/>
<path d="M414.0,458.9 L414.0,460.5" stroke-width="1.2"/>
<path d="M420.0,456.0 L420.0,459.3" stroke-width="1.2"/>
<path d="M426.0,452.5 L426.0,458.0" stroke-width="1.2"/>
<path d="M432.0,448.5 L432.0,456.8" stroke-width="1.2"/>
<path d="M438.0,443.9 L438.0,455.5" stroke-width="1.2"/>
<path d="M444.0,438.8 L444.0,454.3" stroke-width="1.2"/>
<path d="M450.0,433.0 L450.0,453.1" stroke-width="1.2"/>
<path d="M456.0,426.8 L456.0,451.8" stroke-width="1.2"/>
<path d="M462.0,420.0 L462.0,450.6" stroke-width="1.2"/>
<path d="M468.0,412.6 L468.0,449.3" stroke-width="1.2"/>
<path d="M474.0,404.6 L474.0,448.1" stroke-width="1.2"/>
<path d="M484.0,406.5 L484.0,446.0" stroke-width="1.2"/>
<path d="M490.0,410.9 L490.0,444.8" stroke-width="1.2"/>
<path d="M496.0,414.5 L496.0,443.5" stroke-width="1.2"/>
<path d="M502.0,417.6 L502.0,442.3" stroke-width="1.2"/>
<path d="M508.0,420.4 L508.0,441.1" stroke-width="1.2"/>
<path d="M514.0,423.0 L514.0,439.8" stroke-width="1.2"/>
<path d="M520.0,425.4 L520.0,438.6" stroke-width="1.2"/>
<path d="M526.0,427.7 L526.0,437.3" stroke-width="1.2"/>
<path d="M532.0,429.9 L532.0,436.1" stroke-width="1.2"/>
<path d="M538.0,432.0 L538.0,434.8" stroke-width="1.2"/>
</g>
<path d="M401,462 L545,432.5 L545,437 L401,466.5 Z" fill="#27d3c7"/>
<path d="M401,466 L545,436.5 L545,446 L401,475.5 Z" fill="#27d3c7" opacity="0.55"/>
<path d="M404.0,462.4 L404.0,473.4" stroke="#27d3c7" stroke-width="1.3"/>
<path d="M409.8,461.2 L409.8,472.2" stroke="#27d3c7" stroke-width="1.3"/>
<path d="M415.6,460.0 L415.6,471.0" stroke="#27d3c7" stroke-width="1.3"/>
<path d="M421.4,458.8 L421.4,469.8" stroke="#27d3c7" stroke-width="1.3"/>
<path d="M427.2,457.6 L427.2,468.6" stroke="#27d3c7" stroke-width="1.3"/>
<path d="M433.0,456.4 L433.0,467.4" stroke="#27d3c7" stroke-width="1.3"/>
<path d="M438.8,455.3 L438.8,466.3" stroke="#27d3c7" stroke-width="1.3"/>
<path d="M444.6,454.1 L444.6,465.1" stroke="#27d3c7" stroke-width="1.3"/>
<path d="M450.4,452.9 L450.4,463.9" stroke="#27d3c7" stroke-width="1.3"/>
<path d="M456.2,451.7 L456.2,462.7" stroke="#27d3c7" stroke-width="1.3"/>
<path d="M462.0,450.5 L462.0,461.5" stroke="#27d3c7" stroke-width="1.3"/>
<path d="M467.8,449.3 L467.8,460.3" stroke="#27d3c7" stroke-width="1.3"/>
<path d="M473.6,448.1 L473.6,459.1" stroke="#27d3c7" stroke-width="1.3"/>
<path d="M479.4,446.9 L479.4,457.9" stroke="#27d3c7" stroke-width="1.3"/>
<path d="M485.2,445.8 L485.2,456.8" stroke="#27d3c7" stroke-width="1.3"/>
<path d="M491.0,444.6 L491.0,455.6" stroke="#27d3c7" stroke-width="1.3"/>
<path d="M496.8,443.4 L496.8,454.4" stroke="#27d3c7" stroke-width="1.3"/>
<path d="M502.6,442.2 L502.6,453.2" stroke="#27d3c7" stroke-width="1.3"/>
<path d="M508.4,441.0 L508.4,452.0" stroke="#27d3c7" stroke-width="1.3"/>
<path d="M514.2,439.8 L514.2,450.8" stroke="#27d3c7" stroke-width="1.3"/>
<path d="M520.0,438.6 L520.0,449.6" stroke="#27d3c7" stroke-width="1.3"/>
<path d="M525.8,437.4 L525.8,448.4" stroke="#27d3c7" stroke-width="1.3"/>
<path d="M531.6,436.2 L531.6,447.2" stroke="#27d3c7" stroke-width="1.3"/>
<path d="M537.4,435.1 L537.4,446.1" stroke="#27d3c7" stroke-width="1.3"/>
<path d="M543.2,433.9 L543.2,444.9" stroke="#27d3c7" stroke-width="1.3"/>
<path d="M401,474 L545,444.5 L545,455 L401,484.5 Z" fill="#27d3c7"/>
<path d="M405.0,480.7 Q410.0,474.2 415.0,478.7" stroke="#5fe6dc" stroke-width="1.6" fill="none"/>
<path d="M417.0,478.2 Q422.0,471.7 427.0,476.2" stroke="#5fe6dc" stroke-width="1.6" fill="none"/>
<path d="M429.0,475.8 Q434.0,469.3 439.0,473.8" stroke="#5fe6dc" stroke-width="1.6" fill="none"/>
<path d="M441.0,473.3 Q446.0,466.8 451.0,471.3" stroke="#5fe6dc" stroke-width="1.6" fill="none"/>
<path d="M453.0,470.8 Q458.0,464.3 463.0,468.8" stroke="#5fe6dc" stroke-width="1.6" fill="none"/>
<path d="M465.0,468.4 Q470.0,461.9 475.0,466.4" stroke="#5fe6dc" stroke-width="1.6" fill="none"/>
<path d="M477.0,465.9 Q482.0,459.4 487.0,463.9" stroke="#5fe6dc" stroke-width="1.6" fill="none"/>
<path d="M489.0,463.5 Q494.0,457.0 499.0,461.5" stroke="#5fe6dc" stroke-width="1.6" fill="none"/>
<path d="M501.0,461.0 Q506.0,454.5 511.0,459.0" stroke="#5fe6dc" stroke-width="1.6" fill="none"/>
<path d="M513.0,458.6 Q518.0,452.1 523.0,456.6" stroke="#5fe6dc" stroke-width="1.6" fill="none"/>
<path d="M525.0,456.1 Q530.0,449.6 535.0,454.1" stroke="#5fe6dc" stroke-width="1.6" fill="none"/>
<path d="M537.0,453.6 Q542.0,447.1 547.0,451.6" stroke="#5fe6dc" stroke-width="1.6" fill="none"/>
<path d="M401,481 L545,451.5 L545,455 L401,484.5 Z" fill="#16a497"/>
<path d="M398,455 L403,454 L404,486 L399,487 Z" fill="#27d3c7"/>
<path d="M540,428 L546,427 L547,458 L541,459 Z" fill="#27d3c7"/>
<path d="M377,437 L382,436 L383,461 L378,462 Z" fill="#27d3c7"/>
<path d="M517,409 L522,408 L522,428 L517,429 Z" fill="#27d3c7"/>
<g>
<path d="M689.3,476 L789,476 L789.3,488.3 L690,488.8 Z" fill="#969ca3"/>
<path d="M693,469.5 L788,469.5 L789,476.5 L689.3,476.5 Z" fill="#a9bcc8"/>
<path d="M760,477 L781,477 M760,480.5 L781,480.5 M760,484 L781,484" stroke="#7c8288" stroke-width="1"/>
<path d="M699,425 L786,425 L785,470 L699,470 Z" fill="#cfdce6"/>
<path d="M697.3,420 L710.7,401 L776,401 L793.3,418.5 L790,425 L700,426 Z" fill="#9aa7b2" stroke="#d0dde5" stroke-width="1.5" stroke-linejoin="round"/>
<path d="M702,421 L790,420 L790,424 L702,425 Z" fill="#7f8b97"/>
<rect x="764" y="407" width="2" height="4" fill="#333"/><rect x="769" y="407" width="2" height="4" fill="#333"/>
<path d="M728,418 Q727,412 735,412 L756,411.5 Q763,412 762,419 Q761,426 754,426 L735,426.5 Q728,426 728,418 Z" fill="#c56a40"/>
<text x="729.5" y="424.5" font-size="12" textLength="31" lengthAdjust="spacingAndGlyphs" style="font-family:'Liberation Sans',sans-serif;font-style:italic;font-weight:bold;fill:#fbe9dc">Store</text>
<path d="M704.7,443 L709,429 L776,428.3 L779.3,442 Z" fill="#dc6a40"/>
<path d="M712,443 L714,429 M720,443 L721,429 M728,443 L729,429 M736,443 L736.5,429 M744,443 L744,429 M752,443 L751.5,429 M760,443 L759,429 M768,443 L766.5,429" stroke="#ee9265" stroke-width="2.5"/>
<path d="M704.7,441 L779.3,440.5 L779.3,444 L704.7,444.5 Z" fill="#c24f30"/>
<rect x="708" y="444" width="23.3" height="14.3" fill="#7a4c55"/>
<rect x="750.7" y="444" width="22.6" height="14.3" fill="#7a4c55"/>
<rect x="710" y="451" width="19" height="5" fill="#b08a78"/><rect x="752" y="451" width="19" height="5" fill="#b08a78"/>
<rect x="732.7" y="444" width="16.6" height="25" fill="#44546a"/>
<rect x="736" y="459" width="9" height="4" fill="#d8dde2"/>
<rect x="697.3" y="460.3" width="35" height="9.4" fill="#3d9cc4"/>
<rect x="749.3" y="460.3" width="33.4" height="9.4" fill="#3d9cc4"/>
</g>
<ellipse cx="507.5" cy="523.5" rx="10" ry="6.5" fill="#8d9399" stroke="#747a80" stroke-width="0.8"/>
<path d="M507.5,487 L507.5,522" stroke="#878d93" stroke-width="2.6"/>
<rect x="502.5" y="456" width="16" height="31" rx="2" fill="#5c6167"/>
<circle cx="510.5" cy="463" r="3.2" fill="#d93a3a"/><circle cx="510.5" cy="471.5" r="3.2" fill="#e0b020"/><circle cx="510.5" cy="480" r="3.2" fill="#3a9a50"/>
<ellipse cx="573.5" cy="509" rx="9.5" ry="6.5" fill="#8d9399" stroke="#747a80" stroke-width="0.8"/>
<path d="M574.5,476 L573.7,507" stroke="#878d93" stroke-width="2.6"/>
<circle cx="575" cy="464.5" r="13.7" fill="#d8343c" stroke="#eee" stroke-width="1"/>
<text x="564.3" y="468.3" font-size="8.5" textLength="21.5" lengthAdjust="spacingAndGlyphs" style="font-family:'Liberation Sans',sans-serif;font-weight:bold;fill:#fff">STOP</text>
<ellipse cx="230" cy="544" rx="10" ry="7" fill="#8d9399" stroke="#747a80" stroke-width="0.8"/>
<path d="M228,490 L229.5,542" stroke="#878d93" stroke-width="2.6"/>
<path d="M213,479 L241,510 M240,477 L214,509" stroke="#9d958a" stroke-width="6" stroke-linecap="round"/>
<path d="M213,479 L241,510 M240,477 L214,509" stroke="#c9b89a" stroke-width="2.5" stroke-dasharray="3 3"/>
<path d="M217,519 L240,518" stroke="#878d93" stroke-width="2"/>
<circle cx="216.5" cy="519.5" r="3.5" fill="#c8404a"/><circle cx="239.5" cy="518.5" r="3.5" fill="#2e9a5a"/>
<ellipse cx="277" cy="590" rx="11" ry="7.5" fill="#8d9399" stroke="#747a80" stroke-width="0.8"/>
<path d="M274.5,552 L276,588" stroke="#878d93" stroke-width="2.6"/>
<path d="M274,528 L289,552 L259,553 Z" fill="#f4eeee" stroke="#c8505a" stroke-width="2.6" stroke-linejoin="round"/>
<ellipse cx="274" cy="545" rx="5" ry="2.5" fill="#555"/>
<ellipse cx="108" cy="541" rx="10.5" ry="6.5625" fill="#2b8a4a"/>
<path d="M108,520 L108,540" stroke="#2f9050" stroke-width="5"/>
<path d="M108.0,462.0 L106.7,465.7 L111.2,468.2 L108.6,471.5 L114.0,474.8 L109.8,476.9 L113.6,478.9 L111.4,481.2 L117.2,483.5 L113.5,486.6 L117.9,489.6 L113.7,491.2 L117.5,492.9 L114.4,496.0 L119.3,499.1 L117.4,500.8 L123.4,502.6 L119.5,505.6 L123.7,508.5 L121.1,510.7 L126.5,513.0 L122.9,516.1 L127.4,519.3 L123.4,522.3 L127.4,525.4 L112.0,526.0 L104.0,526.0 L91.1,524.4 L94.8,521.9 L90.4,519.5 L94.6,516.0 L90.8,512.6 L96.8,511.2 L94.8,509.9 L97.7,507.5 L92.5,505.2 L98.8,501.4 L97.2,497.5 L100.6,496.4 L96.0,495.2 L102.0,491.5 L100.0,487.9 L103.8,485.8 L99.7,483.7 L104.4,481.4 L101.1,479.1 L106.2,476.3 L103.3,473.6 L107.7,471.8 L104.2,470.0 L108.8,466.8 Z" fill="#3b9f58"/>
<path d="M103.724,476 Q108,471 111.742,476" stroke="#237a3e" stroke-width="2" fill="none"/>
<path d="M101.271,486 Q108,481 113.887,486" stroke="#237a3e" stroke-width="2" fill="none"/>
<path d="M98.8192,496 Q108,491 116.033,496" stroke="#237a3e" stroke-width="2" fill="none"/>
<path d="M96.3669,506 Q108,501 118.179,506" stroke="#237a3e" stroke-width="2" fill="none"/>
<path d="M93.9147,516 Q108,511 120.325,516" stroke="#237a3e" stroke-width="2" fill="none"/>
<path d="M108,467 L108,524" stroke="#2a8547" stroke-width="2"/>
<ellipse cx="447" cy="585" rx="10.5" ry="6.5625" fill="#2b8a4a"/>
<path d="M447,564 L447,584" stroke="#2f9050" stroke-width="5"/>
<path d="M447.0,505.0 L445.9,509.1 L450.9,512.7 L447.8,514.3 L452.8,515.9 L449.6,518.8 L454.4,521.6 L451.0,525.1 L455.5,528.6 L452.9,530.6 L458.3,532.7 L453.5,534.6 L456.6,536.6 L454.7,539.7 L460.8,542.9 L457.4,545.5 L462.0,548.1 L459.4,550.3 L464.7,552.6 L460.2,555.5 L463.6,558.4 L460.0,560.6 L464.4,562.8 L460.8,565.5 L465.1,568.3 L451.0,570.0 L443.0,570.0 L428.1,569.3 L431.6,566.8 L427.1,564.2 L432.1,561.0 L429.1,557.7 L434.1,554.8 L431.1,551.9 L434.7,549.6 L430.4,547.2 L435.5,544.7 L432.6,542.1 L437.9,539.5 L435.2,537.0 L440.8,535.0 L438.5,533.1 L442.2,529.7 L437.8,526.3 L443.6,524.2 L441.3,522.1 L445.2,519.7 L441.0,517.3 L446.0,514.0 L443.1,510.6 L448.0,509.5 Z" fill="#3b9f58"/>
<path d="M442.724,519.167 Q447,514.167 450.742,519.167" stroke="#237a3e" stroke-width="2" fill="none"/>
<path d="M440.271,529.333 Q447,524.333 452.887,529.333" stroke="#237a3e" stroke-width="2" fill="none"/>
<path d="M437.819,539.5 Q447,534.5 455.033,539.5" stroke="#237a3e" stroke-width="2" fill="none"/>
<path d="M435.367,549.667 Q447,544.667 457.179,549.667" stroke="#237a3e" stroke-width="2" fill="none"/>
<path d="M432.915,559.833 Q447,554.833 459.325,559.833" stroke="#237a3e" stroke-width="2" fill="none"/>
<path d="M447,510 L447,568" stroke="#2a8547" stroke-width="2"/>
<ellipse cx="624" cy="506" rx="9" ry="5.625" fill="#2b8a4a"/>
<path d="M624,485 L624,505" stroke="#2f9050" stroke-width="5"/>
<path d="M624.0,437.0 L622.5,440.0 L627.2,442.2 L623.8,444.5 L628.5,446.8 L624.8,449.2 L629.2,451.6 L626.2,453.6 L631.3,455.6 L627.5,458.1 L631.8,460.6 L629.8,462.2 L635.7,463.8 L632.4,465.5 L637.1,467.2 L632.3,470.3 L635.5,473.4 L632.7,474.6 L637.9,475.7 L635.2,478.2 L640.6,480.7 L638.0,483.5 L643.4,486.2 L637.0,487.8 L638.6,489.4 L628.0,491.0 L620.0,491.0 L607.0,490.2 L612.5,487.9 L610.1,485.6 L612.8,483.0 L607.5,480.4 L612.2,478.1 L608.8,475.8 L614.5,474.5 L612.2,473.2 L616.1,470.7 L612.0,468.2 L616.3,466.5 L612.7,464.9 L617.4,461.9 L614.1,458.9 L619.0,457.0 L616.0,455.1 L621.4,452.6 L618.9,450.2 L623.2,448.8 L619.5,447.3 L623.8,445.9 L620.2,444.4 L625.2,441.8 Z" fill="#3b9f58"/>
<path d="M620.174,449.333 Q624,444.333 627.348,449.333" stroke="#237a3e" stroke-width="2" fill="none"/>
<path d="M617.98,457.667 Q624,452.667 629.268,457.667" stroke="#237a3e" stroke-width="2" fill="none"/>
<path d="M615.786,466 Q624,461 631.188,466" stroke="#237a3e" stroke-width="2" fill="none"/>
<path d="M613.591,474.333 Q624,469.333 633.107,474.333" stroke="#237a3e" stroke-width="2" fill="none"/>
<path d="M611.397,482.667 Q624,477.667 635.027,482.667" stroke="#237a3e" stroke-width="2" fill="none"/>
<path d="M624,442 L624,489" stroke="#2a8547" stroke-width="2"/>
<g>
<path d="M155,547 L173,547 L174,561 Q164,564 156,561 Z" fill="#f08a2c"/>
<path d="M149,531 Q151,528 162,528 Q174,528 177,532 L180,545 L176,546 L174,540 L174,549 L154,549 L153,540 L151,546 L147,545 Z" fill="#8a3fc0"/>
<ellipse cx="162.5" cy="521" rx="8" ry="9" fill="#f3c9a8"/>
<circle cx="159.5" cy="521" r="1" fill="#333"/><circle cx="165.5" cy="521" r="1" fill="#333"/>
</g>
<g transform="translate(600,541.5) rotate(-31)">
<rect x="-26" y="-13.5" width="52" height="27" rx="10" fill="#2a7ad2"/>
<rect x="-26" y="-13.5" width="52" height="27" rx="10" fill="none" stroke="#1a58a8" stroke-width="1.2"/>
<path d="M-10,-10 Q-4,-12 4,-11 L5,11 Q-4,12 -10,10 Q-13,0 -10,-10 Z" fill="#3d5f86"/>
<path d="M5,-11 L16,-10 L16,10 L5,11 Z" fill="#3f8ae0"/>
<path d="M-24,-6 Q-26,0 -24,6" stroke="#e8f0ff" stroke-width="2" fill="none"/>
<path d="M-20,-3 L-14,-3 M-20,3 L-14,3" stroke="#8fc0f5" stroke-width="1.2"/>
</g>
<g>
<!-- second car -->
<path d="M767,500 Q767,487 781,486 L852,482 Q860,482 860,490 L860,527 L770,533 Z" fill="#33cfc7"/>
<path d="M781,486 L852,482 Q858,482 859,486 L780,491 Z" fill="#6fe3dc"/>
<path d="M797,491 L832,489 L832,502 L797,503 Z" fill="#8fe8e2"/>
<path d="M799,504 L853,501 L853,521 L799,523 Z" fill="#22aaa2"/>
<path d="M802,507 L823,506 L823,519 L802,520 Z M827,505 L850,504 L850,517 L827,518 Z" fill="#7ad9d3"/>
<path d="M771,530 L859,524.5 L858,533 L772,540 Z" fill="#7a868e"/>
<circle cx="800" cy="540" r="5" fill="#3a3f44"/><circle cx="836" cy="535.5" r="4.5" fill="#3a3f44"/>
<!-- coupler -->
<rect x="765" y="531" width="12" height="13" fill="#3a4046"/>
<!-- loco -->
<path d="M657.3,550 Q657,536 667,528.7 Q680,521 700,516 L746.7,506 Q760,505 765.3,512.7 L766.7,547.3 L700,556 L660,558 Z" fill="#33cfc7"/>
<path d="M690,518 L746.7,506 Q758,505 763,510 L700,522 Z" fill="#6ee3dc"/>
<path d="M738.7,507.5 L754.7,505.5 L755,513 L739,515 Z" fill="#4a6a70"/>
<path d="M668,534 Q674,525 690,524.7 Q697,527 695,537 Q690,545 678,546 Q669,545 668,534 Z" fill="#2a3136"/>
<path d="M718.7,529 L756,525 L756,539 L718.7,542 Z" fill="#2aa8a0"/>
<path d="M722,539 L727,531 M732,538 L737,530 M742,537 L747,529" stroke="#e6f6f5" stroke-width="1.5"/>
<path d="M657.3,550 Q660,560 672,562 L700,561 L766.7,552 L766.7,545 L700,553 L665,556 Q659,555 657.3,550 Z" fill="#6b757d"/>
<circle cx="706.5" cy="563" r="5.5" fill="#3a3f44"/><circle cx="745.5" cy="555" r="5" fill="#3a3f44"/>
<text x="724" y="552.7" font-size="6" style="font-family:'Liberation Sans',sans-serif;fill:#e8f8f8">Train</text>
<circle cx="750" cy="547" r="2.2" fill="none" stroke="#eee" stroke-width="0.8"/><circle cx="756" cy="546.5" r="2.2" fill="#eee"/>
</g>
<g>
<!-- handle -->
<path d="M175.5,831 C185,812 205,804 222,804 C240,804 262,812 275,832" fill="none" stroke="#dcdee2" stroke-width="2.2"/>
<!-- box face -->
<defs><linearGradient id="boxbg" x1="0" y1="0" x2="1" y2="0"><stop offset="0" stop-color="#eef0f4"/><stop offset="0.6" stop-color="#e9ebf0"/><stop offset="1" stop-color="#e4e7ec"/></linearGradient></defs>
<rect x="22" y="830" width="402" height="281" fill="url(#boxbg)"/>
<!-- top band -->
<path d="M22,846 L32,830.3 L111,830.3 L121,846 Z" fill="#37b9ad"/>
<path d="M121,846 L111,830.3 L424,830.3 L424,846 Z" fill="#dfe2e8"/>
<ellipse cx="146.7" cy="837" rx="17" ry="4.3" fill="#3fb8ad"/>
<ellipse cx="146.7" cy="837" rx="9" ry="2.5" fill="#9fdcd6"/>
<circle cx="177" cy="833" r="1.6" fill="#333"/><circle cx="274" cy="833" r="1.6" fill="#333"/>
<!-- window -->
<rect x="173" y="837" width="231.5" height="79" rx="9" fill="#33b8af"/>
<rect x="177" y="841" width="223.5" height="71" rx="6" fill="#43484c"/>
<path d="M180,844 L398,844 L398,853 L180,855 Z" fill="#575c60"/>
<path d="M182,903 Q230,896 290,906 Q340,899 398,907" stroke="#6a6f74" stroke-width="1" fill="none"/>
<path d="M200,895 Q215,900 226,909 M330,893 Q350,905 372,908" stroke="#63686d" stroke-width="0.8" fill="none"/>
<!-- loco in window -->
<path d="M186,884 Q186,874 197,867 Q210,861 230,859.5 L289,858.5 L290,884 Z" fill="#30b6ae"/>
<path d="M192,880 Q196,872 206,868 L214,867 Q208,874 201,880 Z" fill="#1b6f6c"/>
<path d="M210,862 Q225,859 250,859 L289,858.5 L289,862 L215,864 Z" fill="#4fc9c2"/>
<rect x="236" y="871.8" width="40.5" height="7.2" fill="#2b6268"/>
<path d="M240,878 L244,873 M253,878 L257,873 M266,878 L270,873" stroke="#e0f0f0" stroke-width="1"/>
<path d="M186,883 L290,883 L290,896 L240,899 L198,900 Q188,897 186,888 Z" fill="#2f363b"/>
<rect x="243" y="885.5" width="17" height="4.5" fill="#30b6ae"/>
<circle cx="266" cy="888" r="1.8" fill="none" stroke="#ddd" stroke-width="0.6"/><circle cx="271" cy="888" r="1.8" fill="#ddd"/>
<circle cx="205" cy="898" r="3.5" fill="#24292d"/><circle cx="268" cy="897" r="3.5" fill="#24292d"/>
<!-- car2 in window -->
<rect x="312" y="857.7" width="87" height="25.8" fill="#30b6ae"/>
<rect x="324" y="866" width="64" height="12" fill="#1f807b"/>
<rect x="330" y="869" width="20" height="6" fill="#2a9a94"/><rect x="356" y="869" width="28" height="6" fill="#2a9a94"/>
<rect x="312" y="882" width="87" height="10" fill="#2f363b"/>
<rect x="290" y="862" width="22" height="30" fill="#3a4044"/>
<ellipse cx="396" cy="885" rx="4" ry="3" fill="#e8eaec"/>
<!-- logo -->
<text x="31.7" y="870.8" font-size="9.5" textLength="38" lengthAdjust="spacingAndGlyphs" style="font-family:'Liberation Sans',sans-serif;font-weight:bold;fill:#d26a3a">Givitoy</text>
<!-- DIY TRACK -->
<text x="28.5" y="901.7" font-size="18.5" textLength="41.5" lengthAdjust="spacingAndGlyphs" style="font-family:'Liberation Sans',sans-serif;font-weight:bold;fill:#55595f;stroke:#55595f;stroke-width:0.9">DIY</text>
<text x="78.5" y="901.7" font-size="18.5" textLength="84.5" lengthAdjust="spacingAndGlyphs" style="font-family:'Liberation Sans',sans-serif;font-weight:bold;fill:#27b2a8;stroke:#27b2a8;stroke-width:0.9">TRACK</text>
<rect x="28.5" y="906.7" width="70.5" height="10.8" rx="2.5" fill="none" stroke="#8fd0cb" stroke-width="1"/>
<text x="34" y="914.5" font-size="7.2" textLength="59" lengthAdjust="spacingAndGlyphs" style="font-family:'Liberation Sans',sans-serif;font-weight:bold;fill:#2fa8a0">CITY TRAIN</text>
<!-- 3+ 66/PCS -->
<text x="30" y="984.3" font-size="13" textLength="15.8" lengthAdjust="spacingAndGlyphs" style="font-family:'Liberation Sans',sans-serif;font-weight:bold;fill:#6a6e74">3+</text>
<rect x="30" y="987.8" width="73.3" height="1" fill="#8a8e94"/>
<text x="30" y="1002.6" font-size="14.5" textLength="55.8" lengthAdjust="spacingAndGlyphs" style="font-family:'Liberation Sans',sans-serif;font-weight:bold;fill:#6a6e74">66/PCS</text>
<rect x="30" y="1004.6" width="73.3" height="1" fill="#8a8e94"/>
<text x="30.8" y="1016.7" font-size="6.2" textLength="78" lengthAdjust="spacingAndGlyphs" style="font-family:'Liberation Sans',sans-serif;fill:#7a7e84">Intelligence Development</text>
<text x="30.8" y="1023.8" font-size="6.2" textLength="107.5" lengthAdjust="spacingAndGlyphs" style="font-family:'Liberation Sans',sans-serif;fill:#7a7e84">Every style is funny and wonderful</text>
<!-- pin icon -->
<path d="M123.7,1006 L116,996 A9.6,9.6 0 1 1 131.4,996 Z" fill="#2aa8a0"/>
<circle cx="123.7" cy="991.5" r="7" fill="#eef2f4"/>
<rect x="119" y="988" width="9.5" height="6" rx="1.5" fill="none" stroke="#555" stroke-width="1"/>
</g>
<g>
<path d="M22,1048 C80,1042 160,1040 230,1030 C280,1024 330,1018 392,1016 L392,1032 C360,1032 335,1036 300,1045 C250,1062 200,1082 150,1095 C110,1104 60,1109 22,1109 Z" fill="#777a7f"/>
<path d="M22,1048 C80,1042 160,1040 230,1030 C280,1024 330,1018 392,1016 L392,1024 C350,1026 300,1032 240,1044 C180,1056 120,1063 80,1066 C60,1067 40,1067 22,1067 Z" fill="#979a9f"/>
<path d="M22,1057 C90,1052 170,1048 240,1038 C300,1030 350,1024 392,1021" fill="none" stroke="#85888d" stroke-width="1.5"/>
<!-- teal bottom band -->
<path d="M60,1111 C110,1104 160,1092 205,1080 C230,1072 250,1066 262,1063.6 L424,1063.6 L424,1111 Z" fill="#2fc2b8"/>
</g>
<g>
<path d="M388,930 L424,930 L424,1006 L388,1006 Z" fill="#1faa9b"/>
<path d="M388,930 L424,930 L424,936 L388,936 Z" fill="#41c6b9"/>
<path d="M401,1006 L401,980 Q405,965 415,964 L424,964 L424,1006 Z" fill="#178878"/>
<path d="M388,1006 L424,1006 L424,1029 L388,1031 Z" fill="#85898e"/>
<path d="M388,1006 L424,1006 L424,1010 L388,1010 Z" fill="#9a9ea3"/>
<path d="M303,1032 L303,935 Q304,920 320,919.6 L372,919.6 Q388,921 390,940 L390,1032.4 Z" fill="#7d8186"/>
<path d="M376,923 Q388,925 390,940 L390,1032.4 L378,1032.4 Z" fill="#a5a8ad"/>
<path d="M318,1010 L318,955 Q319,944 330,944 L350,944 Q360,945 360,958 L360,1010 Z" fill="#3b3f44"/>
<path d="M309,955 L309,940 Q312,928 326,927 L362,927 Q370,930 371,945 L372,1030" fill="none" stroke="#e8eaec" stroke-width="0.8" stroke-dasharray="1.5 1.5"/>
<text x="320" y="931.8" font-size="6" textLength="33" lengthAdjust="spacingAndGlyphs" style="font-family:'Liberation Sans',sans-serif;fill:#e0e2e4">– TUNNEL –</text>
</g>
<g>
<!-- body teal -->
<path d="M154,1001 Q156,982 172,967 Q185,956 200,953 Q220,950 240,950 L305,954.6 L362,958 L362,1008 L255,1012 L200,1016 Z" fill="#1ba896"/>
<path d="M172,967 Q185,956 200,953 Q220,950 240,950 L305,954.6 L362,958 L362,964 L305,961 L240,957 Q215,957 200,960 Q186,964 175,973 Z" fill="#46c9ba"/>
<path d="M178,972 Q185,961 205,961 L235,961 Q244,962 242,970 Q238,979 228,981 L190,981.5 Q179,980 178,972 Z" fill="#383d41"/>
<path d="M185,966 Q200,963 225,964" stroke="#5a6064" stroke-width="1.5" fill="none"/>
<path d="M216,982 Q232,978 244,981 L240,995 Q232,1005 222,1010 Z" fill="#7fdcd0"/>
<path d="M248,1009 L362,1003 L362,1020 L305,1027 L252,1028 Z" fill="#595e63"/>
<!-- grey nose -->
<path d="M153,1003 Q154,990 170,988 Q195,985 213,992 Q220,1002 216,1015 Q210,1022 195,1022 L165,1021 Q153,1016 153,1003 Z" fill="#7a7e83"/>
<path d="M160,995 Q178,988 205,991" stroke="#a9adb1" stroke-width="3" fill="none" stroke-linecap="round"/>
<!-- stripes panel -->
<rect x="255" y="975" width="45" height="13.3" fill="#4e5b60"/>
<path d="M258,986 L264,977 M261.5,986 L267.5,977 M274,986 L280,977 M277.5,986 L283.5,977 M289,986 L295,977 M292.5,986 L298.5,977" stroke="#e6f4f4" stroke-width="1.3"/>
<rect x="264" y="999" width="22" height="8.5" fill="#1ba896"/>
<text x="266" y="1006" font-size="6.8" style="font-family:'Liberation Sans',sans-serif;fill:#e6f7f6">Train</text>
<circle cx="292" cy="1002.5" r="2.4" fill="none" stroke="#eee" stroke-width="0.8"/><circle cx="298" cy="1002.5" r="2.4" fill="#eee"/>
<path d="M310,999 L360,997 L360,1001 L310,1003 Z" fill="#a8e6e0"/>
<!-- underside -->
<path d="M168,1020 L200,1016 L260,1012 L330,1012 L330,1022 L262,1030 L175,1032 Z" fill="#4a4f54"/>
<path d="M190,1026 Q250,1018 320,1016" stroke="#5a5f64" stroke-width="1.5" fill="none"/>
<!-- inner tunnel car -->
<path d="M318,961 L362,962 L362,1000 L318,1000 Z" fill="#189a8a"/>
<path d="M330,968 L360,969 L360,986 L330,986 Z" fill="#127a6e"/>
</g>
<g>
<text x="361" y="1049.5" font-size="9.3" textLength="27" lengthAdjust="spacingAndGlyphs" style="font-family:'Liberation Sans',sans-serif;font-weight:bold;fill:#2ab2a8">HIGH-</text>
<text x="327" y="1059" font-size="12.3" textLength="37" lengthAdjust="spacingAndGlyphs" style="font-family:'Liberation Sans',sans-serif;font-weight:bold;fill:#5d6166">SPEED</text>
<text x="367.5" y="1058.5" font-size="8.3" textLength="20.5" lengthAdjust="spacingAndGlyphs" style="font-family:'Liberation Sans',sans-serif;font-weight:bold;fill:#5d6166">RAIL</text>
<ellipse cx="404.4" cy="1050.2" rx="10.6" ry="9.8" fill="#2ab2a8"/>
<text x="397.5" y="1054.5" font-size="11" textLength="13" lengthAdjust="spacingAndGlyphs" style="font-family:'Liberation Sans',sans-serif;font-weight:bold;font-style:italic;fill:#e8f8f6">01</text>
<circle cx="259.5" cy="1080" r="7.6" fill="none" stroke="#f4fbfb" stroke-width="2"/>
<text x="256" y="1083.5" font-size="8" style="font-family:'Liberation Sans',sans-serif;font-weight:bold;fill:#f4fbfb">u</text>
<text x="268" y="1089.5" font-size="22" textLength="78" lengthAdjust="spacingAndGlyphs" style="font-family:'Liberation Sans',sans-serif;fill:#f4fbfb">reator</text>
<circle cx="357.5" cy="1080.5" r="4" fill="none" stroke="#f4fbfb" stroke-width="1.3"/>
<text x="364" y="1084.8" font-size="8.5" textLength="50" lengthAdjust="spacingAndGlyphs" style="font-family:'Liberation Sans',sans-serif;font-weight:bold;font-style:italic;fill:#f4fbfb">283 KM/H</text>
<text x="239" y="1100.5" font-size="8.6" textLength="175" lengthAdjust="spacingAndGlyphs" style="font-family:'Liberation Sans',sans-serif;fill:#e8f8f6">REALISTIC TRACK AND TRAIN</text>
</g>
<!--/PHOTO-->
<!-- dimension arrows -->
<g fill="#22dcd8">
<polygon points="29,621 20.5,635.5 37.5,635.5"/>
<polygon points="29,703 20.5,688 37.5,688"/>
<polygon points="867,621 858.5,635.5 875.5,635.5"/>
<polygon points="867,700 858.5,685.7 875.5,685.7"/>
</g>
<g stroke="#22dcd8" stroke-width="2.4" stroke-dasharray="2.4 3.4">
<line x1="29" y1="638" x2="29" y2="686"/>
<line x1="867" y1="638" x2="867" y2="684"/>
</g>
<rect x="33" y="735.6" width="834" height="4.5" fill="#22d8d4"/>
<ellipse cx="33" cy="736.2" rx="15.9" ry="13.8" fill="#12e5df"/>
<ellipse cx="867.5" cy="734.8" rx="16.2" ry="15" fill="#12e5df"/>
<text class="t" x="407" y="723" font-size="31" textLength="87" lengthAdjust="spacingAndGlyphs">83 см</text>


<!-- train icon -->
<g fill="none" stroke="#333" stroke-width="2.4" stroke-linecap="round" stroke-linejoin="round">
<path d="M445.5,850 A41.3,45.8 0 0 1 528,850.5" stroke-width="2.7" stroke-linecap="butt"/>
<path d="M460.8,826.7 Q461.5,820.7 466,820.7 L488.3,820.7 L515.8,834.6 L516.2,846.7 Q506,850 497,855 Q492,859 489.2,862 L462.5,862 Q457.6,862 457.9,857 Z"/>
<rect x="463.8" y="824.2" width="21.2" height="13.7" rx="2"/>
<path d="M491.3,828.8 L515.8,836.8 L515.8,844.8 L491.3,844.6 Z"/>
<line x1="463.3" y1="865" x2="491.7" y2="865"/>
<line x1="459.2" y1="869.3" x2="488.3" y2="869.3"/>
<line x1="456.3" y1="873.8" x2="463.3" y2="862.9"/>
<path d="M484.2,876.3 Q498,856 519.6,850.8"/>
</g>
<g fill="#333">
<rect x="499" y="830" width="2" height="15"/>
<rect x="507.5" y="833" width="1.6" height="12"/>
<circle cx="465.2" cy="852.3" r="2.5"/>
<circle cx="482.7" cy="852.3" r="2.5"/>
</g>
<!-- battery icon -->
<rect x="476.7" y="901" width="11.1" height="5.5" fill="#333"/>
<rect x="468.9" y="906.6" width="27.1" height="56" rx="3.5" fill="none" stroke="#333" stroke-width="3.1"/>
<ellipse cx="495.3" cy="934.4" rx="18.8" ry="20.1" fill="#fff" stroke="#333" stroke-width="4.7"/>
<text x="484" y="943.5" font-size="18.5" style="font-family:'Liberation Sans',sans-serif;fill:#333;stroke:#333;stroke-width:0.6">x</text>
<text x="494" y="943.8" font-size="24" textLength="13" lengthAdjust="spacingAndGlyphs" style="font-family:'Liberation Sans',sans-serif;fill:#333;stroke:#333;stroke-width:0.7">2</text>
<!-- magnet icon -->
<path d="M464,994.2 L477.1,994.2 L477.1,1028.7 A12.9,12.9 0 0 0 502.9,1028.7 L502.9,994.2 L516,994.2 L516,1028.7 A26,26 0 0 1 464,1028.7 Z" fill="#333"/>
<path d="M466.6,996.8 L474.5,996.8 L474.5,1028.7 A15.5,15.5 0 0 0 486.4,1043.8 L486.4,1051.8 A23.4,23.4 0 0 1 466.6,1028.7 Z" fill="#fff"/>
<polyline points="494.6,995.4 485,1004.2 495.6,1001.8 485.6,1012.4" fill="none" stroke="#333" stroke-width="1.8" stroke-linejoin="miter"/>
<!-- link icon -->
<g fill="none" stroke="#333" stroke-width="6.4">
<g transform="translate(504.4,1086.4) rotate(-45)"><rect x="-12.4" y="-10.9" width="24.8" height="21.8" rx="7.2"/></g>
<g transform="translate(477,1116.2) rotate(-45)"><rect x="-12.4" y="-10.9" width="24.8" height="21.8" rx="7.2"/></g>
<line x1="478.4" y1="1114.6" x2="503" y2="1088" stroke="#fff" stroke-width="12" stroke-linecap="round"/>
<line x1="478.4" y1="1114.6" x2="503" y2="1088" stroke-linecap="round"/>
</g>

<!-- right side texts -->
<text class="t" x="541.3" y="850" font-size="29" textLength="248.5" lengthAdjust="spacingAndGlyphs">Поезд движется</text>
<text class="t" x="541.2" y="921.7" font-size="24" textLength="343.3" lengthAdjust="spacingAndGlyphs">Работает на батарейках ААА</text>
<text class="t" x="541.6" y="950.6" font-size="24" textLength="276.5" lengthAdjust="spacingAndGlyphs">(в комплект не входят)</text>
<text class="t" x="541.6" y="1010.5" font-size="24" textLength="243" lengthAdjust="spacingAndGlyphs">Соединение вагонов</text>
<text class="t" x="541.6" y="1039.9" font-size="24" textLength="142.5" lengthAdjust="spacingAndGlyphs">на магнитах</text>
<text class="t" x="541.6" y="1091.7" font-size="24" textLength="253.5" lengthAdjust="spacingAndGlyphs">Полотно совместимо</text>
<text class="t" x="541.6" y="1120.6" font-size="24" textLength="319.5" lengthAdjust="spacingAndGlyphs">с деревянными аналогами</text>
</svg>
</body></html>
